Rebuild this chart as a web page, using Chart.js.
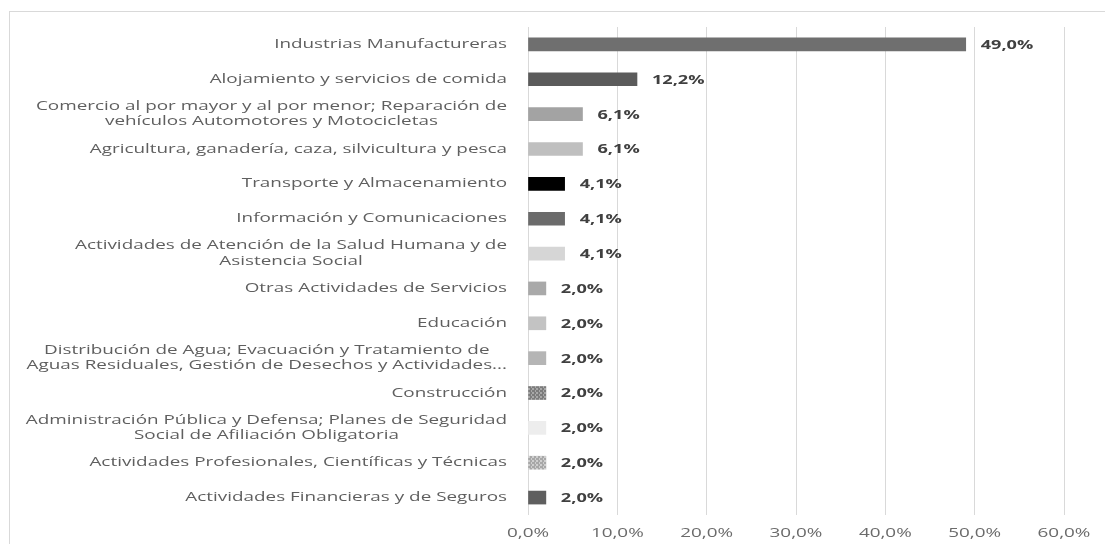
<!DOCTYPE html>
<html>
<head>
<meta charset="utf-8">
<script src="https://cdn.jsdelivr.net/npm/chart.js@4.4.1/dist/chart.umd.min.js"></script>
<style>
  html, body { margin:0; padding:0; background:#fff; }
  #wrap  { position:relative; width:1105px; height:544px; }
  #marco { position:absolute; left:9px; top:11px; right:0; bottom:0;
           border-left:1px solid #d9d9d9; border-top:1px solid #d9d9d9; pointer-events:none; }
</style>
</head>
<body>
<div id="wrap">
  <canvas id="grafico" width="1105" height="544"></canvas>
  <div id="marco"></div>
</div>
<script>
/* ── DATOS ── */
const SECTORES = [
  ['Industrias Manufactureras'],
  ['Alojamiento y servicios de comida'],
  ['Comercio al por mayor y al por menor; Reparación de', 'vehículos Automotores y Motocicletas'],
  ['Agricultura, ganadería, caza, silvicultura y pesca'],
  ['Transporte y Almacenamiento'],
  ['Información y Comunicaciones'],
  ['Actividades de Atención de la Salud Humana y de', 'Asistencia Social'],
  ['Otras Actividades de Servicios'],
  ['Educación'],
  ['Distribución de Agua; Evacuación y Tratamiento de', 'Aguas Residuales, Gestión de Desechos y Actividades...'],
  ['Construcción'],
  ['Administración Pública y Defensa; Planes de Seguridad', 'Social de Afiliación Obligatoria'],
  ['Actividades Profesionales, Científicas y Técnicas'],
  ['Actividades Financieras y de Seguros'],
];
const PORCENTAJES = [49.0, 12.2, 6.1, 6.1, 4.1, 4.1, 4.1, 2.0, 2.0, 2.0, 2.0, 2.0, 2.0, 2.0];
const TICKS_X     = [0, 10, 20, 30, 40, 50, 60];
const ETIQUETAS_X = ['0,0%', '10,0%', '20,0%', '30,0%', '40,0%', '50,0%', '60,0%'];

/* ── ESTILO ── */
const ESTIRA = 1.51;   // el texto del original está ensanchado
const FUENTE = '"Open Sans", sans-serif';

function trama(base, mancha) {
  const c = document.createElement('canvas');
  c.width = 4; c.height = 4;
  const g = c.getContext('2d');
  g.fillStyle = base; g.fillRect(0, 0, 4, 4);
  g.fillStyle = mancha; g.fillRect(0, 0, 2, 2); g.fillRect(3, 2, 1, 2);
  return g.createPattern(c, 'repeat');
}

const GRISES = [
  '#6f6f6f', '#5b5b5b', '#a3a3a3', '#bfbfbf', '#000000', '#6b6b6b', '#d6d6d6',
  '#a9a9a9', '#c3c3c3', '#b5b5b5', trama('#7c7c7c', '#a8a8a8'), '#ededed',
  trama('#a8a8a8', '#cfcfcf'), '#5f5f5f'
];

function fmt(v) { return v.toFixed(1).replace('.', ',') + '%'; }

function texto(ctx, t, x, y, align) {
  const w = ctx.measureText(t).width * ESTIRA;
  const x0 = align === 'right' ? x - w : align === 'center' ? x - w / 2 : x;
  ctx.save();
  ctx.translate(x0, y);
  ctx.scale(ESTIRA, 1);
  ctx.textAlign = 'left';
  ctx.fillText(t, 0, 0);
  ctx.restore();
}

/* ── ETIQUETAS (eje Y, eje X, valores) ── */
const rotulos = {
  id: 'rotulos',
  afterDraw(chart) {
    const { ctx, chartArea, scales: { x, y } } = chart;
    ctx.save();
    ctx.textBaseline = 'middle';

    // categorías
    ctx.font = '12.5px ' + FUENTE;
    ctx.fillStyle = '#5f5f5f';
    const derecha = chartArea.left - 21;
    SECTORES.forEach((lineas, i) => {
      const yc = y.getPixelForValue(i);
      const ancho = Math.max(...lineas.map(l => ctx.measureText(l).width)) * ESTIRA;
      lineas.forEach((l, k) => {
        texto(ctx, l, derecha - ancho / 2, yc + (k - (lineas.length - 1) / 2) * 15.5, 'center');
      });
    });

    // eje X
    ctx.fillStyle = '#6b6b6b';
    TICKS_X.forEach((v, i) => {
      texto(ctx, ETIQUETAS_X[i], x.getPixelForValue(v), chartArea.bottom + 18, 'center');
    });

    // valores
    ctx.font = 'bold 12px ' + FUENTE;
    ctx.fillStyle = '#404040';
    chart.getDatasetMeta(0).data.forEach((barra, i) => {
      texto(ctx, fmt(PORCENTAJES[i]), barra.x + 15, barra.y + 1, 'left');
    });
    ctx.restore();
  }
};

new Chart(document.getElementById('grafico'), {
  type: 'bar',
  data: {
    labels: SECTORES.map(l => l.join(' ')),
    datasets: [{
      data: PORCENTAJES,
      backgroundColor: GRISES,
      barThickness: 13,
      borderWidth: 0
    }]
  },
  options: {
    indexAxis: 'y',
    responsive: false,
    animation: false,
    layout: { padding: { top: 27, right: 41, bottom: 29, left: 528 } },
    plugins: { legend: { display: false }, tooltip: { enabled: false } },
    scales: {
      y: { display: false },
      x: {
        min: 0, max: 60,
        ticks: { display: false, stepSize: 10 },
        grid: { color: '#d9d9d9', lineWidth: 1, drawTicks: false },
        border: { display: false }
      }
    }
  },
  plugins: [rotulos]
});
</script>
</body>
</html>
